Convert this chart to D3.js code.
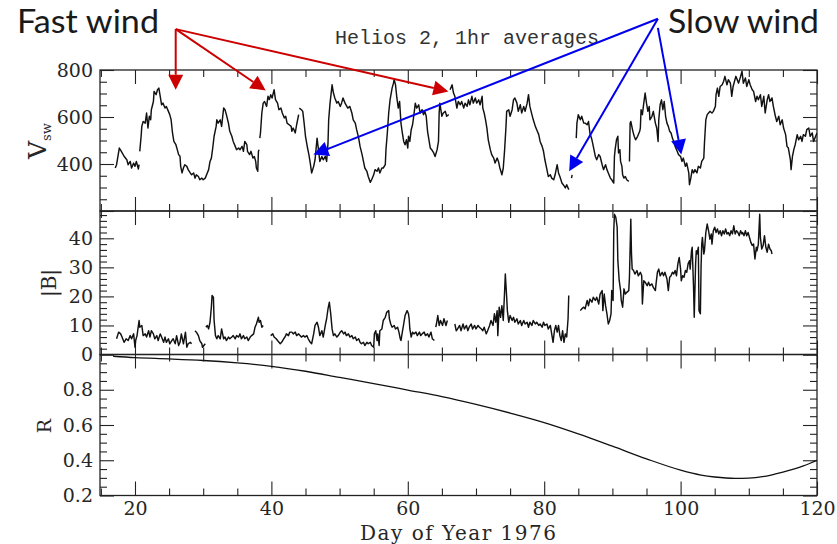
<!DOCTYPE html>
<html>
<head>
<meta charset="utf-8">
<script src="https://cdn.jsdelivr.net/npm/d3@7"></script>
<style>
  html, body { margin: 0; padding: 0; background: #fff; }
  svg { display: block; }
</style>
</head>
<body>
<svg id="chart" width="837" height="544"></svg>
<script>
// ---- tick labels ----
const dayTicks = [20, 40, 60, 80, 100, 120];
const vswTicks = [400, 600, 800];
const bTicks = [0, 10, 20, 30, 40];
const rTicks = [0.2, 0.4, 0.6, 0.8];

// ---- solar wind speed, km/s  [day of year, value]; null marks a data gap ----
const vswSeries = [
  [17.1,383],[17.3,397],[17.7,468],[18.0,454],[18.4,433],[18.8,418],[19.0,397],[19.3,411],[19.5,383],[19.8,404],
  [20.0,390],[20.2,411],[20.5,379],[20.6,397],[20.65,null],
  [20.7,454],[20.9,518],[21.0,560],[21.2,581],[21.5,574],[21.7,617],[21.9,553],[22.1,603],[22.3,588],[22.4,631],
  [22.7,666],[22.8,709],[23.1,695],[23.3,716],[23.5,723],[23.7,688],[23.9,652],[24.1,659],[24.4,638],[24.6,645],
  [24.9,624],[25.1,610],[25.3,588],[25.5,532],[25.7,496],[26.0,482],[26.2,461],[26.4,440],[26.6,433],[26.7,390],
  [26.9,362],[27.1,383],[27.3,397],[27.6,390],[27.8,376],[28.1,362],[28.3,354],[28.6,362],[28.8,340],[29.0,354],
  [29.3,347],[29.5,333],[29.8,340],[30.0,333],[30.3,340],[30.5,354],[30.8,376],[31.0,411],[31.2,425],[31.4,468],
  [31.6,518],[31.9,560],[32.0,588],[32.2,574],[32.5,588],[32.7,560],[33.0,638],[33.2,631],[33.4,610],[33.7,574],
  [33.9,539],[34.2,518],[34.4,496],[34.7,475],[34.9,461],[35.2,468],[35.4,461],[35.7,475],[35.9,454],[36.1,496],
  [36.4,482],[36.5,454],[36.8,440],[37.0,454],[37.3,425],[37.5,432],[37.7,411],[37.8,383],[38.0,369],[38.1,454],
  [38.2,461],[38.25,null],
  [38.3,510],[38.4,532],[38.6,617],[38.8,659],[39.0,666],[39.3,645],[39.5,688],[39.7,674],[39.9,695],[40.1,681],
  [40.4,716],[40.6,674],[40.9,659],[41.1,631],[41.4,638],[41.6,617],[41.9,596],[42.1,603],[42.3,574],[42.6,567],
  [42.9,560],[43.0,539],[43.2,553],[43.5,532],[43.7,567],[44.0,610],[44.05,null],
  [44.1,638],[44.4,631],[44.6,624],[44.8,574],[45.0,518],[45.3,468],[45.5,440],[45.7,404],[45.9,362],[46.2,390],
  [46.4,418],[46.7,510],[46.9,461],[47.1,411],[47.4,432],[47.6,418],[47.9,432],[48.1,411],[48.3,489],[48.4,588],
  [48.6,659],[48.9,737],[49.1,702],[49.3,681],[49.6,659],[49.8,666],[50.1,645],[50.3,660],[50.5,681],[50.8,659],
  [51.2,638],[51.5,645],[51.8,617],[52.0,588],[52.3,574],[52.5,546],[52.8,510],[53.0,475],[53.3,440],[53.5,411],
  [53.7,383],[54.0,369],[54.2,347],[54.5,322],[54.7,333],[55.0,354],[55.2,376],[55.5,369],[55.7,383],[55.9,362],
  [56.2,383],[56.4,383],[56.7,397],[56.8,461],[57.0,532],[57.2,617],[57.4,673],[57.7,723],[57.9,744],[58.0,759],
  [58.2,737],[58.4,681],[58.6,638],[58.8,666],[59.0,574],[59.2,532],[59.4,496],[59.6,482],[59.8,503],[60.0,468],
  [60.1,518],[60.3,496],[60.5,546],[60.7,567],[60.9,610],[61.1,659],[61.3,638],[61.6,652],[61.8,617],[62.1,631],
  [62.3,610],[62.5,624],[62.7,603],[62.9,539],[63.1,503],[63.3,468],[63.5,461],[63.8,447],[64.0,432],[64.3,461],
  [64.5,496],[64.6,617],[64.7,659],[65.0,603],[65.2,617],[65.5,624],[65.7,603],[66.0,610],[66.1,null],
  [66.2,716],[66.5,737],[66.7,702],[66.9,688],[67.2,638],[67.4,666],[67.7,652],[67.9,666],[68.2,638],[68.4,659],
  [68.7,645],[68.9,673],[69.1,652],[69.4,688],[69.6,659],[69.9,681],[70.1,659],[70.4,673],[70.6,652],[70.9,688],
  [71.0,638],[71.2,617],[71.4,588],[71.6,553],[71.8,503],[72.1,461],[72.3,440],[72.6,425],[72.8,404],[73.1,425],
  [73.3,411],[73.5,383],[73.8,354],[74.0,383],[74.2,461],[74.4,560],[74.5,624],[74.8,631],[75.0,603],[75.3,631],
  [75.5,673],[75.7,681],[76.0,659],[76.2,624],[76.5,652],[76.7,617],[77.0,645],[77.2,624],[77.5,659],[77.7,695],
  [77.9,645],[78.2,610],[78.4,588],[78.7,560],[78.9,546],[79.2,525],[79.4,496],[79.7,475],[79.9,454],[80.1,418],
  [80.4,376],[80.6,347],[80.9,354],[81.1,340],[81.4,333],[81.6,354],[81.9,397],[82.1,362],[82.3,347],[82.6,319],
  [82.8,312],[83.1,298],[83.3,312],[83.6,291],[83.7,null],
  [84.0,340],[84.1,354],[84.15,null],
  [84.7,510],[84.8,574],[85.0,610],[85.3,588],[85.5,603],[85.8,574],[86.0,574],[86.3,567],[86.5,581],[86.7,532],
  [87.0,503],[87.2,475],[87.5,432],[87.7,418],[88.0,440],[88.2,432],[88.5,397],[88.7,376],[89.0,397],[89.2,376],
  [89.4,362],[89.7,340],[89.9,333],[90.2,319],[90.3,432],[90.4,461],[90.6,503],[90.8,518],[90.9,447],[91.1,461],
  [91.2,411],[91.4,390],[91.5,354],[91.7,340],[91.9,347],[92.1,333],[92.4,326],[92.45,null],
  [92.5,411],[92.6,574],[92.7,581],[93.0,539],[93.2,518],[93.4,503],[93.7,518],[94.0,539],[94.1,553],[94.2,631],
  [94.4,610],[94.6,659],[94.8,702],[95.0,659],[95.2,624],[95.4,645],[95.5,588],[95.8,603],[96.0,624],[96.3,574],
  [96.5,553],[96.7,496],[96.8,588],[97.0,652],[97.2,673],[97.4,631],[97.6,666],[97.8,603],[98.0,574],[98.2,560],
  [98.4,539],[98.6,532],[98.8,510],[99.0,496],[99.2,475],[99.5,454],[99.7,440],[100.0,432],[100.2,411],[100.4,425],
  [100.7,390],[100.9,404],[101.2,362],[101.3,312],[101.5,340],[101.7,376],[101.9,362],[102.1,376],[102.4,362],[102.6,390],
  [102.9,383],[103.1,411],[103.4,425],[103.5,489],[103.7,588],[103.9,610],[104.1,617],[104.3,624],[104.6,617],[104.8,624],
  [105.1,645],[105.2,695],[105.4,723],[105.6,688],[105.8,730],[106.1,737],[106.3,751],[106.5,773],[106.8,737],[107.0,759],
  [107.3,744],[107.5,688],[107.7,730],[107.9,751],[108.1,773],[108.3,759],[108.5,744],[108.8,773],[109.0,795],[109.2,744],
  [109.5,766],[109.7,730],[110.0,759],[110.2,737],[110.5,716],[110.7,709],[111.0,666],[111.2,688],[111.4,673],[111.7,695],
  [111.9,645],[112.2,688],[112.4,617],[112.7,673],[112.9,695],[113.1,666],[113.4,681],[113.6,645],[113.9,603],[114.1,581],
  [114.4,603],[114.6,567],[114.9,588],[115.1,553],[115.4,525],[115.6,475],[115.8,468],[116.1,418],[116.2,376],[116.4,432],
  [116.6,461],[116.8,482],[117.1,525],[117.3,503],[117.6,518],[117.8,496],[118.0,525],[118.3,518],[118.5,546],[118.8,553],
  [119.0,518],[119.3,532],[119.5,496],[119.8,518],[120.0,532]
];

// ---- magnetic field magnitude |B|, nT ----
const bSeries = [
  [17.3,5.4],[17.6,7.7],[17.9,7.1],[18.1,6.0],[18.4,4.2],[18.7,5.4],[19.0,4.8],[19.3,6.5],[19.5,5.4],[19.8,7.1],
  [20.0,2.5],[20.1,4.8],[20.3,6.5],[20.6,11.7],[20.7,9.4],[21.0,10.0],[21.2,6.5],[21.5,7.1],[21.7,6.0],[22.0,8.2],
  [22.2,6.0],[22.4,8.2],[22.7,7.1],[22.9,5.4],[23.2,6.5],[23.4,4.8],[23.7,7.1],[23.9,6.0],[24.2,4.2],[24.4,6.0],
  [24.6,4.2],[24.9,5.4],[25.1,3.7],[25.4,4.8],[25.6,5.4],[25.9,3.7],[26.1,6.5],[26.4,3.1],[26.6,4.2],[26.8,7.1],
  [27.1,3.7],[27.4,7.7],[27.6,2.5],[27.8,3.7],[28.1,4.2],[28.3,3.7],[28.5,null],
  [28.8,8.2],[29.0,7.7],[29.3,6.5],[29.5,4.8],[29.8,3.7],[29.9,2.5],[30.1,3.1],[30.3,3.7],[30.35,null],
  [30.4,9.4],[30.6,10.0],[30.8,8.8],[31.0,11.1],[31.2,16.3],[31.3,20.3],[31.5,19.7],[31.6,11.7],[31.8,6.5],[32.0,5.4],
  [32.2,6.5],[32.5,5.4],[32.7,8.8],[33.0,5.4],[33.2,6.0],[33.4,4.8],[33.7,6.0],[33.9,5.4],[34.2,6.0],[34.4,6.5],
  [34.7,5.4],[34.9,6.5],[35.2,6.0],[35.4,7.1],[35.6,5.4],[35.9,6.5],[36.1,5.4],[36.4,6.0],[36.6,4.8],[36.9,6.0],
  [37.1,6.5],[37.4,7.1],[37.6,9.4],[37.8,10.5],[38.1,12.8],[38.2,11.1],[38.4,11.7],[38.6,9.4],[38.8,10.0],[39.3,null],
  [39.9,6.5],[40.2,7.1],[40.4,6.0],[40.7,5.4],[40.9,4.8],[41.3,3.7],[41.5,4.2],[41.8,5.4],[42.0,6.0],[42.2,7.1],
  [42.5,6.5],[42.7,7.7],[43.0,7.7],[43.2,7.1],[43.5,7.7],[43.7,6.5],[44.0,7.1],[44.2,6.5],[44.4,6.0],[44.7,6.5],
  [44.9,6.0],[45.2,6.5],[45.4,5.4],[45.7,4.2],[45.9,3.7],[46.2,7.1],[46.4,10.0],[46.7,11.1],[46.9,9.4],[47.1,6.5],
  [47.4,8.2],[47.6,6.0],[47.9,10.0],[48.1,12.3],[48.3,15.7],[48.5,18.0],[48.7,14.0],[48.9,8.8],[49.1,6.5],[49.3,7.1],
  [49.6,6.0],[49.8,6.5],[50.1,7.7],[50.3,8.2],[50.6,7.1],[50.8,7.7],[51.0,6.5],[51.3,7.1],[51.5,6.0],[51.8,6.5],
  [52.0,5.4],[52.3,6.0],[52.5,4.8],[52.8,5.4],[53.0,4.2],[53.2,3.7],[53.5,4.2],[53.7,3.1],[54.0,4.2],[54.2,3.7],
  [54.5,4.2],[54.7,3.1],[55.0,2.5],[55.1,7.1],[55.3,8.2],[55.5,4.8],[55.6,7.1],[55.8,3.1],[55.9,8.2],[56.2,8.8],
  [56.4,11.7],[56.7,12.8],[56.9,14.5],[57.2,15.1],[57.3,12.3],[57.5,10.5],[57.7,9.4],[58.0,10.0],[58.2,8.8],[58.5,9.4],
  [58.7,7.7],[58.9,5.4],[59.0,4.8],[59.2,7.7],[59.4,10.5],[59.6,13.4],[59.9,15.1],[60.1,14.0],[60.2,12.3],[60.3,8.8],
  [60.5,6.0],[60.7,7.7],[60.9,7.1],[61.2,7.7],[61.4,6.5],[61.7,7.7],[61.9,6.5],[62.1,7.1],[62.4,7.7],[62.6,6.5],
  [62.9,7.1],[63.1,6.0],[63.4,7.7],[63.6,5.4],[63.9,4.8],[64.0,null],
  [64.1,9.4],[64.2,10.5],[64.4,13.4],[64.6,10.0],[64.8,11.7],[65.1,10.0],[65.3,12.3],[65.6,10.0],[65.8,11.7],[66.3,null],
  [66.9,10.5],[67.1,8.2],[67.3,8.8],[67.6,10.0],[67.8,8.2],[68.1,10.5],[68.3,8.8],[68.6,10.0],[68.8,8.2],[69.0,9.4],
  [69.3,10.5],[69.5,8.8],[69.8,10.0],[70.0,8.8],[70.3,10.0],[70.5,9.4],[70.8,8.8],[71.0,8.2],[71.2,9.4],[71.5,7.1],
  [71.7,8.2],[72.0,10.0],[72.2,11.7],[72.5,10.0],[72.7,14.0],[72.9,11.1],[73.1,15.1],[73.2,6.5],[73.4,16.3],[73.6,12.8],
  [73.8,16.8],[74.0,11.7],[74.2,22.0],[74.3,27.7],[74.5,19.7],[74.6,15.1],[74.8,11.1],[75.0,13.4],[75.3,11.7],[75.5,12.8],
  [75.7,11.1],[76.0,12.3],[76.2,10.5],[76.5,11.7],[76.7,10.0],[77.0,11.7],[77.2,10.5],[77.5,11.1],[77.7,9.4],[77.9,11.1],
  [78.2,10.0],[78.4,11.7],[78.7,10.5],[78.9,11.1],[79.2,10.0],[79.4,10.5],[79.7,9.4],[79.9,11.1],[80.1,10.0],[80.4,10.5],
  [80.6,8.8],[80.9,10.0],[81.1,7.1],[81.3,4.2],[81.5,8.2],[81.7,10.0],[81.9,7.7],[82.1,10.0],[82.3,6.5],[82.5,4.8],
  [82.7,8.2],[82.9,4.2],[83.1,7.1],[83.3,6.0],[83.5,12.3],[83.6,20.3],[83.7,null],
  [85.3,15.1],[85.5,15.7],[85.8,16.3],[86.0,15.7],[86.3,18.6],[86.5,16.8],[86.7,19.1],[87.0,18.0],[87.2,19.7],[87.5,18.6],
  [87.7,19.7],[88.0,17.4],[88.2,20.8],[88.5,22.0],[88.6,15.1],[88.8,20.8],[89.0,16.8],[89.2,14.0],[89.4,10.5],[89.6,11.7],
  [89.8,14.0],[89.9,22.0],[90.1,18.6],[90.2,42.6],[90.3,48.3],[90.5,47.2],[90.7,43.8],[90.8,32.3],[91.0,25.4],[91.2,22.0],
  [91.3,18.6],[91.5,16.3],[91.7,22.6],[91.9,20.8],[92.1,21.4],[92.4,22.0],[92.5,26.6],[92.7,46.6],[92.8,34.6],[92.9,29.4],
  [93.1,28.9],[93.3,27.7],[93.6,28.9],[93.8,27.1],[94.1,28.3],[94.3,27.1],[94.4,17.4],[94.6,25.4],[94.8,24.9],[95.1,23.7],
  [95.3,24.9],[95.5,23.7],[95.8,24.3],[96.0,23.1],[96.3,22.0],[96.4,24.3],[96.6,28.3],[96.8,29.4],[97.0,27.1],[97.3,28.3],
  [97.5,27.1],[97.7,28.3],[98.0,26.0],[98.2,22.0],[98.4,26.6],[98.6,27.1],[98.8,28.3],[99.0,27.7],[99.2,28.9],[99.4,27.1],
  [99.6,31.2],[99.8,33.4],[100.0,29.4],[100.1,25.4],[100.3,27.1],[100.5,26.6],[100.7,28.9],[100.9,28.3],[101.1,31.2],[101.3,32.3],
  [101.4,29.4],[101.6,35.7],[101.7,36.9],[101.9,23.1],[102.0,12.8],[102.2,31.2],[102.3,35.7],[102.4,34.6],[102.6,36.9],[102.7,15.1],
  [102.9,14.0],[103.0,30.0],[103.1,38.0],[103.2,40.3],[103.4,34.6],[103.5,35.7],[103.7,42.0],[103.9,44.9],[104.1,42.6],[104.3,39.7],
  [104.5,41.5],[104.6,38.0],[104.8,42.6],[105.0,43.8],[105.2,42.0],[105.4,43.2],[105.6,41.5],[105.8,42.6],[106.0,40.9],[106.2,42.6],
  [106.4,41.5],[106.6,43.2],[106.8,41.5],[107.0,42.0],[107.2,40.9],[107.4,42.6],[107.6,41.5],[107.8,44.3],[108.0,41.5],[108.2,42.6],
  [108.4,42.0],[108.6,40.9],[108.8,42.6],[109.0,41.5],[109.1,42.0],[109.3,40.9],[109.5,42.6],[109.7,40.9],[109.9,42.0],[110.1,40.3],
  [110.3,38.6],[110.5,37.5],[110.7,38.0],[110.9,32.9],[111.1,36.9],[111.2,35.7],[111.4,38.0],[111.6,48.3],[111.7,40.3],[111.9,36.3],
  [112.1,37.5],[112.3,40.9],[112.5,36.9],[112.7,35.2],[112.9,38.0],[113.1,36.3],[113.3,35.7],[113.4,34.6]
];

// ---- heliocentric distance R, AU ----
const rSeries = [
  [16.8,0.990],[20,0.982],[25,0.975],[30,0.966],[35,0.952],[40,0.933],[45,0.905],[50,0.870],[55,0.835],
  [60,0.798],[65,0.761],[70,0.717],[75,0.668],[80,0.614],[85,0.550],[90,0.480],[95,0.408],[100,0.344],
  [103,0.316],[105,0.305],[108,0.297],[110,0.299],[112,0.307],[115,0.333],[118,0.368],[120,0.400]
];

// ---- annotation arrows: origin and tip as [day, km/s] on the speed panel ----
const fastOrigin = [25.97, 974];
const fastTips = [[25.97, 716], [39.17, 713], [65.95, 709]];
const slowOrigins = [[96.67, 1018], [96.67, 1018], [96.67, 979]];
const slowTips = [[46.16, 440], [83.66, 369], [100.1, 440]];

// ---- layout ----
const svg = d3.select("#chart");
const xLeft = 100, xRight = 817;
const panels = [
  { top: 70, bottom: 211 },
  { top: 211, bottom: 354.5 },
  { top: 354.5, bottom: 495.5 }
];

const x = d3.scaleLinear().domain([14.87, 120]).range([xLeft, xRight]);
const yV = d3.scaleLinear().domain([200, 800]).range([panels[0].bottom, panels[0].top]);
const yB = d3.scaleLinear().domain([0, 49.4]).range([panels[1].bottom, panels[1].top]);
const yR = d3.scaleLinear().domain([0.2, 1.0]).range([panels[2].bottom, panels[2].top]);

const axisColor = "#222";
const tickFont = "'DejaVu Serif', 'Liberation Serif', serif";
const majorLen = 14, minorLen = 7;

const dayMinor = d3.range(15, 121, 5).filter(d => d % 20 !== 0);

function styleAxis(g) {
  g.select(".domain").remove();
  g.selectAll(".tick line").attr("stroke", axisColor).attr("stroke-width", 1.1);
  g.selectAll(".tick text")
    .attr("font-family", tickFont)
    .attr("font-size", 19)
    .attr("fill", "#262626");
}

function drawFrame(p, y, majors, minors, labelFmt, showDayLabels, id) {
  const g = svg.append("g");
  // bottom edge ticks
  g.append("g").attr("transform", `translate(0,${p.bottom})`)
    .call(d3.axisBottom(x).tickValues(dayTicks).tickSize(-majorLen).tickSizeOuter(0).tickPadding(6)
      .tickFormat(showDayLabels ? d3.format("d") : () => ""))
    .call(styleAxis);
  g.append("g").attr("transform", `translate(0,${p.bottom})`)
    .call(d3.axisBottom(x).tickValues(dayMinor).tickSize(-minorLen).tickSizeOuter(0).tickFormat(() => ""))
    .call(styleAxis);
  // top edge ticks
  g.append("g").attr("transform", `translate(0,${p.top})`)
    .call(d3.axisTop(x).tickValues(dayTicks).tickSize(-majorLen).tickSizeOuter(0).tickFormat(() => ""))
    .call(styleAxis);
  g.append("g").attr("transform", `translate(0,${p.top})`)
    .call(d3.axisTop(x).tickValues(dayMinor).tickSize(-minorLen).tickSizeOuter(0).tickFormat(() => ""))
    .call(styleAxis);
  // left edge ticks with labels
  g.append("g").attr("transform", `translate(${xLeft},0)`)
    .call(d3.axisLeft(y).tickValues(majors).tickSize(-majorLen).tickSizeOuter(0).tickPadding(7).tickFormat(labelFmt))
    .call(styleAxis);
  g.append("g").attr("transform", `translate(${xLeft},0)`)
    .call(d3.axisLeft(y).tickValues(minors).tickSize(-minorLen).tickSizeOuter(0).tickFormat(() => ""))
    .call(styleAxis);
  // right edge ticks
  g.append("g").attr("transform", `translate(${xRight},0)`)
    .call(d3.axisRight(y).tickValues(majors).tickSize(-majorLen).tickSizeOuter(0).tickFormat(() => ""))
    .call(styleAxis);
  g.append("g").attr("transform", `translate(${xRight},0)`)
    .call(d3.axisRight(y).tickValues(minors).tickSize(-minorLen).tickSizeOuter(0).tickFormat(() => ""))
    .call(styleAxis);
  // border
  g.append("rect")
    .attr("x", xLeft).attr("y", p.top)
    .attr("width", xRight - xLeft).attr("height", p.bottom - p.top)
    .attr("fill", "none").attr("stroke", axisColor).attr("stroke-width", 1.3);
  // clip region for the data
  svg.append("clipPath").attr("id", id)
    .append("rect")
    .attr("x", xLeft).attr("y", p.top)
    .attr("width", xRight - xLeft).attr("height", p.bottom - p.top);
}

const vMajors = [200, 400, 600, 800];
const vMinors = d3.range(250, 800, 50).filter(v => v % 200 !== 0);
const bMajors = [0, 10, 20, 30, 40];
const bMinors = d3.range(2, 49.4, 2).filter(v => v % 10 !== 0);
const rMajors = [0.2, 0.4, 0.6, 0.8, 1.0];
const rMinors = d3.range(0.25, 1.0, 0.05).map(v => +v.toFixed(2)).filter(v => Math.round(v * 100) % 20 !== 0);

drawFrame(panels[0], yV, vMajors, vMinors, v => vswTicks.includes(v) ? String(v) : "", false, "clipV");
drawFrame(panels[1], yB, bMajors, bMinors, v => bTicks.includes(v) ? String(v) : "", false, "clipB");
drawFrame(panels[2], yR, rMajors, rMinors, v => rTicks.includes(v) ? v.toFixed(1) : "", true, "clipR");

// ---- data traces ----
function trace(series, y, clipId, curve, width) {
  const line = d3.line()
    .defined(d => d[1] !== null)
    .x(d => x(d[0]))
    .y(d => y(d[1]));
  if (curve) line.curve(curve);
  svg.append("path")
    .datum(series)
    .attr("clip-path", `url(#${clipId})`)
    .attr("fill", "none")
    .attr("stroke", "#111")
    .attr("stroke-width", width)
    .attr("stroke-linejoin", "round")
    .attr("d", line);
}
trace(vswSeries, yV, "clipV", null, 1.45);
trace(bSeries, yB, "clipB", null, 1.45);
trace(rSeries, yR, "clipR", d3.curveMonotoneX, 1.3);

// ---- axis titles ----
const serif = "'DejaVu Serif', 'Liberation Serif', serif";
const vLabel = svg.append("text")
  .attr("transform", "translate(46,141) rotate(-90)")
  .attr("text-anchor", "middle")
  .attr("font-family", serif).attr("fill", "#262626");
vLabel.append("tspan").attr("font-size", 25).text("V");
vLabel.append("tspan").attr("font-size", 13).attr("dy", 5).text("sw");

svg.append("text")
  .attr("transform", "translate(56,283) rotate(-90)")
  .attr("text-anchor", "middle")
  .attr("font-family", serif).attr("font-size", 20).attr("fill", "#262626")
  .text("|B|");

svg.append("text")
  .attr("transform", "translate(51,426) rotate(-90)")
  .attr("text-anchor", "middle")
  .attr("font-family", serif).attr("font-size", 19).attr("fill", "#262626")
  .text("R");

svg.append("text")
  .attr("x", 458).attr("y", 540)
  .attr("text-anchor", "middle")
  .attr("font-family", serif).attr("font-size", 20).attr("fill", "#262626")
  .attr("textLength", 196).attr("lengthAdjust", "spacing")
  .text("Day of Year 1976");

// ---- title ----
svg.append("text")
  .attr("x", 335).attr("y", 44)
  .attr("font-family", "'Liberation Mono', 'DejaVu Sans Mono', monospace")
  .attr("font-size", 20).attr("fill", "#333")
  .text("Helios 2, 1hr averages");

// ---- callout labels ----
const calloutFont = "Lato, 'Open Sans', sans-serif";
svg.append("text")
  .attr("x", 17).attr("y", 33)
  .attr("font-family", calloutFont).attr("font-size", 32).attr("fill", "#1a1a1a")
  .attr("textLength", 142).attr("lengthAdjust", "spacingAndGlyphs")
  .text("Fast wind");
svg.append("text")
  .attr("x", 668).attr("y", 33)
  .attr("font-family", calloutFont).attr("font-size", 32).attr("fill", "#1a1a1a")
  .attr("textLength", 151).attr("lengthAdjust", "spacingAndGlyphs")
  .text("Slow wind");

// ---- arrows ----
function arrow(from, to, color) {
  const x0 = x(from[0]), y0 = yV(from[1]);
  const x1 = x(to[0]), y1 = yV(to[1]);
  const ang = Math.atan2(y1 - y0, x1 - x0);
  const headLen = 15, headHalf = 7.5;
  const bx = x1 - headLen * Math.cos(ang), by = y1 - headLen * Math.sin(ang);
  svg.append("line")
    .attr("x1", x0).attr("y1", y0).attr("x2", bx).attr("y2", by)
    .attr("stroke", color).attr("stroke-width", 2);
  const px = -Math.sin(ang) * headHalf, py = Math.cos(ang) * headHalf;
  svg.append("polygon")
    .attr("points", [[x1, y1], [bx + px, by + py], [bx - px, by - py]].map(p => p.join(",")).join(" "))
    .attr("fill", color);
}
fastTips.forEach(t => arrow(fastOrigin, t, "#cc0000"));
slowTips.forEach((t, i) => arrow(slowOrigins[i], t, "#0000ee"));
</script>
</body>
</html>
